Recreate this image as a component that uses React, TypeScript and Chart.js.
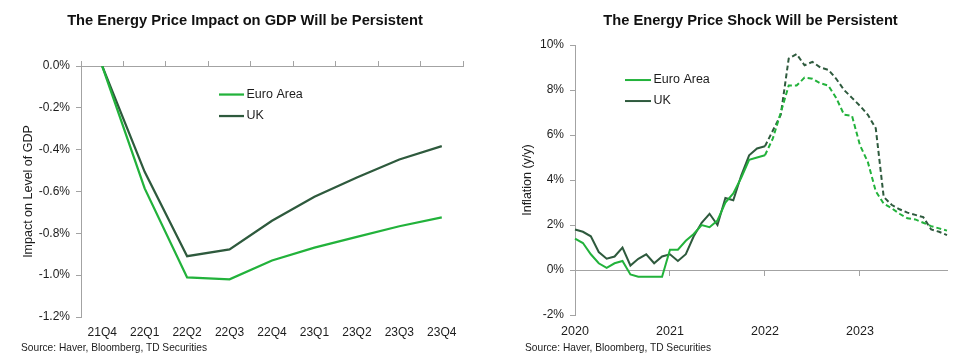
import React, { useEffect, useRef } from 'react';
import { Chart, registerables } from 'chart.js';

Chart.register(...registerables);

const FONT_FAMILY = '"Liberation Sans", Arial, Helvetica, sans-serif';
Chart.defaults.font.family = FONT_FAMILY;

// ---------- Left chart: impact on level of GDP ----------
const quarters = ['21Q4', '22Q1', '22Q2', '22Q3', '22Q4', '23Q1', '23Q2', '23Q3', '23Q4'];
const gdpEuroArea = [0, -0.585, -1.011, -1.02, -0.93, -0.868, -0.817, -0.766, -0.724];
const gdpUK = [0, -0.506, -0.909, -0.877, -0.74, -0.625, -0.533, -0.447, -0.383];
const gdpAxisMin = -1.2;
const gdpAxisMax = 0;
const gdpAxisStep = 0.2;

// ---------- Right chart: inflation y/y (monthly, Jan 2020 .. Dec 2023) ----------
const yearLabels = ['2020', '2021', '2022', '2023'];
const inflationEuroArea = [
  1.4, 1.2, 0.7, 0.3, 0.1, 0.3, 0.4, -0.2, -0.3, -0.3, -0.3, -0.3,
  0.9, 0.9, 1.3, 1.6, 2.0, 1.9, 2.2, 3.0, 3.4, 4.1, 4.9, 5.0,
  5.1, 5.85, 7.0, 8.2, 8.2, 8.55, 8.5, 8.3, 8.2, 7.65, 6.9, 6.85,
  5.55, 4.8, 3.5, 2.95, 2.75, 2.5, 2.3, 2.25, 2.1, 1.95, 1.85, 1.75,
];
const inflationUK = [
  1.8, 1.7, 1.5, 0.8, 0.5, 0.6, 1.0, 0.2, 0.5, 0.7, 0.3, 0.6,
  0.7, 0.4, 0.7, 1.5, 2.1, 2.5, 2.0, 3.2, 3.1, 4.2, 5.1, 5.4,
  5.5, 6.2, 6.9, 9.4, 9.6, 9.1, 9.25, 9.0, 8.9, 8.5, 8.0, 7.65,
  7.3, 6.9, 6.3, 3.25, 2.9, 2.7, 2.55, 2.45, 2.35, 1.8, 1.7, 1.55,
];
const lastActualMonthIndex = 24; // dashed (forecast) after this point
const inflAxisMin = -2;
const inflAxisMax = 10;
const inflAxisStep = 2;

// ---------- Texts ----------
const leftTitle = 'The Energy Price Impact on GDP Will be Persistent';
const rightTitle = 'The Energy Price Shock Will be Persistent';
const leftYTitle = 'Impact on Level of GDP';
const rightYTitle = 'Inflation (y/y)';
const sourceText = 'Source: Haver, Bloomberg, TD Securities';
const seriesNames = ['Euro Area', 'UK'];

// ---------- Styles ----------
const EURO_COLOR = '#22b23b';
const UK_COLOR = '#2e5a3d';
const AXIS_COLOR = '#a3a3a3';
const TEXT_COLOR = '#1c1c1c';
const TITLE_FONT = { size: 14.7, weight: 'bold' as const, lineHeight: 1.2 };
const TICK_FONT = { size: 12 };
const AXIS_TITLE_FONT = { size: 12.5, lineHeight: 1.2 };

const monthLabels = yearLabels.flatMap((y) =>
  Array.from({ length: 12 }, (_, m) => `${y}-${String(m + 1).padStart(2, '0')}`)
);

const insideLegend = {
  id: 'insideLegend',
  afterDraw(chart: any, _args: any, opts: any) {
    const { ctx, chartArea } = chart;
    const x0 = chartArea.left + opts.dx;
    let y = chartArea.top + opts.dy;
    ctx.save();
    ctx.font = `${opts.fontSize}px ${FONT_FAMILY}`;
    ctx.textBaseline = 'middle';
    ctx.textAlign = 'left';
    chart.data.datasets.forEach((ds: any) => {
      ctx.strokeStyle = ds.borderColor;
      ctx.lineWidth = ds.borderWidth;
      ctx.setLineDash([]);
      ctx.beginPath();
      ctx.moveTo(x0, y);
      ctx.lineTo(x0 + opts.lineLength, y);
      ctx.stroke();
      ctx.fillStyle = TEXT_COLOR;
      ctx.fillText(ds.label, x0 + opts.lineLength + opts.gap, y);
      y += opts.rowHeight;
    });
    ctx.restore();
  },
};

const yAxisCommon = (fitWidth: number, titleText: string, titlePad: number) => ({
  type: 'linear' as const,
  position: 'left' as const,
  grid: {
    display: true,
    drawOnChartArea: false,
    drawTicks: true,
    tickLength: 5,
    tickColor: AXIS_COLOR,
  },
  border: { display: true, color: AXIS_COLOR, width: 1 },
  title: {
    display: true,
    text: titleText,
    color: TEXT_COLOR,
    font: AXIS_TITLE_FONT,
    padding: { top: titlePad, bottom: 0 },
  },
  afterFit: (s: any) => {
    s.width = fitWidth;
  },
});

function buildLeftConfig(): any {
  return {
    type: 'line',
    data: {
      labels: quarters,
      datasets: [
        {
          label: seriesNames[0],
          data: gdpEuroArea,
          borderColor: EURO_COLOR,
          backgroundColor: EURO_COLOR,
          borderWidth: 2.25,
          pointRadius: 0,
          tension: 0,
          fill: false,
        },
        {
          label: seriesNames[1],
          data: gdpUK,
          borderColor: UK_COLOR,
          backgroundColor: UK_COLOR,
          borderWidth: 2.25,
          pointRadius: 0,
          tension: 0,
          fill: false,
        },
      ],
    },
    options: {
      animation: false,
      responsive: false,
      devicePixelRatio: 1,
      events: [],
      layout: { padding: { left: 27, right: 17, top: 0, bottom: 0 } },
      plugins: {
        legend: { display: false },
        tooltip: { enabled: false },
        title: {
          display: true,
          text: leftTitle,
          color: '#111',
          font: TITLE_FONT,
          padding: { top: 12.2, bottom: 36.2 },
        },
        insideLegend: { dx: 138, dy: 28.5, lineLength: 25, gap: 2.5, rowHeight: 21.5, fontSize: 12.5 },
      },
      scales: {
        x: {
          type: 'category',
          position: 'bottom',
          offset: true,
          grid: { display: false, drawTicks: false, drawOnChartArea: false },
          border: { display: false },
          ticks: { color: TEXT_COLOR, font: TICK_FONT, padding: 8, maxRotation: 0, autoSkip: false },
          afterFit: (s: any) => {
            s.height = 45;
          },
        },
        xTop: {
          type: 'category',
          position: 'top',
          offset: true,
          grid: {
            display: true,
            offset: true,
            drawOnChartArea: false,
            drawTicks: true,
            tickLength: 5,
            tickColor: AXIS_COLOR,
          },
          border: { display: true, color: AXIS_COLOR, width: 1 },
          ticks: { display: false, autoSkip: false },
          afterFit: (s: any) => {
            s.height = 0;
          },
        },
        y: {
          ...yAxisCommon(54, leftYTitle, -6.2),
          min: gdpAxisMin,
          max: gdpAxisMax,
          ticks: {
            stepSize: gdpAxisStep,
            color: TEXT_COLOR,
            font: TICK_FONT,
            padding: 6,
            callback: (v: any) => Number(v).toFixed(1) + '%',
          },
        },
      },
    },
    plugins: [insideLegend],
  };
}

function buildRightConfig(): any {
  const dashed = (ctx: any) => (ctx.p0DataIndex >= lastActualMonthIndex ? [5, 3] : undefined);
  return {
    type: 'line',
    data: {
      labels: monthLabels,
      datasets: [
        {
          label: seriesNames[0],
          data: inflationEuroArea,
          borderColor: EURO_COLOR,
          backgroundColor: EURO_COLOR,
          borderWidth: 2,
          pointRadius: 0,
          tension: 0,
          fill: false,
          segment: { borderDash: dashed },
        },
        {
          label: seriesNames[1],
          data: inflationUK,
          borderColor: UK_COLOR,
          backgroundColor: UK_COLOR,
          borderWidth: 2,
          pointRadius: 0,
          tension: 0,
          fill: false,
          segment: { borderDash: dashed },
        },
      ],
    },
    options: {
      animation: false,
      responsive: false,
      devicePixelRatio: 1,
      events: [],
      layout: { padding: { left: 40, right: 19, top: 0, bottom: 0 } },
      plugins: {
        legend: { display: false },
        tooltip: { enabled: false },
        title: {
          display: true,
          text: rightTitle,
          color: '#111',
          font: TITLE_FONT,
          padding: { top: 12.2, bottom: 15.2 },
        },
        insideLegend: { dx: 50, dy: 35, lineLength: 26, gap: 2.5, rowHeight: 21, fontSize: 12.5 },
      },
      scales: {
        x: {
          type: 'category',
          position: 'bottom',
          offset: false,
          grid: { display: false, drawTicks: false, drawOnChartArea: false },
          border: { display: false },
          ticks: {
            color: TEXT_COLOR,
            font: { size: 12.5 },
            padding: 9,
            maxRotation: 0,
            autoSkip: false,
            callback: (_v: any, i: number) => (i % 12 === 0 ? yearLabels[i / 12] : ''),
          },
          afterFit: (s: any) => {
            s.height = 47;
          },
        },
        xZero: {
          type: 'category',
          position: { y: 0 },
          offset: false,
          grid: {
            display: true,
            drawOnChartArea: false,
            drawTicks: true,
            tickLength: 5,
            tickColor: (ctx: any) => (ctx.index % 12 === 0 ? AXIS_COLOR : 'rgba(0,0,0,0)'),
          },
          border: { display: true, color: AXIS_COLOR, width: 1 },
          ticks: { display: false, autoSkip: false },
          afterFit: (s: any) => {
            s.height = 0;
          },
        },
        y: {
          ...yAxisCommon(55, rightYTitle, 0.5),
          min: inflAxisMin,
          max: inflAxisMax,
          ticks: {
            stepSize: inflAxisStep,
            color: TEXT_COLOR,
            font: TICK_FONT,
            padding: 6,
            callback: (v: any) => `${v}%`,
          },
        },
        ySpacer: {
          type: 'linear',
          position: 'right',
          min: inflAxisMin,
          max: inflAxisMax,
          grid: { display: false, drawTicks: false, drawOnChartArea: false },
          border: { display: false },
          ticks: { display: false },
          afterFit: (s: any) => {
            s.width = 34;
          },
        },
      },
    },
    plugins: [insideLegend],
  };
}

function ChartCanvas({ build, width, height }: { build: () => any; width: number; height: number }) {
  const ref = useRef<HTMLCanvasElement | null>(null);
  useEffect(() => {
    if (!ref.current) return;
    const chart = new Chart(ref.current, build());
    return () => chart.destroy();
  }, [build]);
  return <canvas ref={ref} width={width} height={height} style={{ display: 'block', width, height }} />;
}

const sourceStyle: React.CSSProperties = {
  position: 'absolute',
  fontFamily: FONT_FAMILY,
  fontSize: 10.2,
  lineHeight: '12px',
  color: TEXT_COLOR,
  whiteSpace: 'nowrap',
};

export default function App() {
  return (
    <div
      style={{
        position: 'fixed',
        left: 0,
        top: 0,
        width: 965,
        height: 362,
        overflow: 'hidden',
        background: '#ffffff',
      }}
    >
      <div style={{ position: 'absolute', left: 0, top: 0, width: 480, height: 362 }}>
        <ChartCanvas build={buildLeftConfig} width={480} height={362} />
      </div>
      <div style={{ position: 'absolute', left: 480, top: 0, width: 520, height: 362 }}>
        <ChartCanvas build={buildRightConfig} width={520} height={362} />
      </div>
      <div style={{ ...sourceStyle, left: 21, top: 342 }}>{sourceText}</div>
      <div style={{ ...sourceStyle, left: 525, top: 341.5 }}>{sourceText}</div>
    </div>
  );
}
